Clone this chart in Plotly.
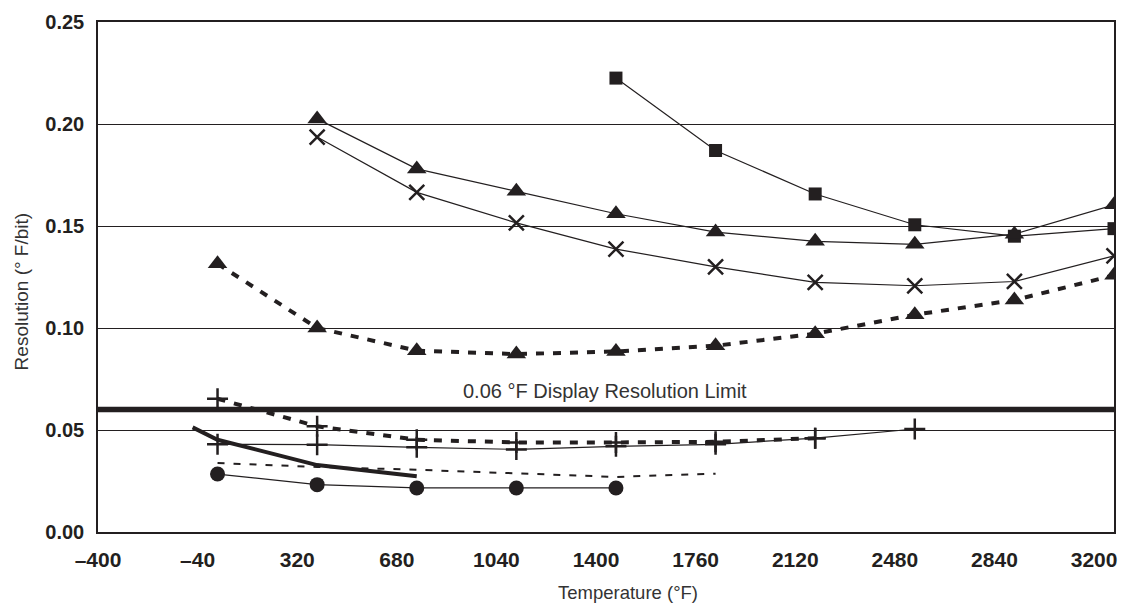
import plotly.graph_objects as go

# Temperatures (°F) of data points (0, 200, ... 1800 °C)
temps = [32, 392, 752, 1112, 1472, 1832, 2192, 2552, 2912, 3272]

sq_x = temps[4:]
sq_y = [0.2225, 0.187, 0.1657, 0.1506, 0.145, 0.1487]

tri_x = temps[1:]
tri_y = [0.2025, 0.178, 0.167, 0.156, 0.147, 0.1425, 0.141, 0.146, 0.1604]

xm_x = temps[1:]
xm_y = [0.1936, 0.1665, 0.1515, 0.1387, 0.130, 0.1224, 0.1207, 0.1228, 0.1354]

dtri_x = temps
dtri_y = [0.1315, 0.100, 0.0889, 0.0872, 0.0885, 0.0913, 0.0972, 0.1065, 0.1137, 0.1258]

dplus_x = temps[:7]
dplus_y = [0.0653, 0.0518, 0.0452, 0.0439, 0.0439, 0.0442, 0.046]

plus_x = temps[:8]
plus_y = [0.0430, 0.0428, 0.0415, 0.0405, 0.0420, 0.0430, 0.046, 0.0505]

thick_x = [-58, 32, 392, 752]
thick_y = [0.0513, 0.0452, 0.0328, 0.0273]

tdash_x = [32, 392, 752, 1112, 1472, 1832]
tdash_y = [0.0338, 0.0319, 0.0305, 0.0289, 0.0270, 0.0286]

circ_x = temps[:5]
circ_y = [0.0284, 0.0232, 0.0216, 0.0216, 0.0216]

limit_x = [-400, 3272]
limit_y = [0.06, 0.06]
limit_label = "0.06 °F Display Resolution Limit"

xtick_vals = [-400, -40, 320, 680, 1040, 1400, 1760, 2120, 2480, 2840, 3200]
xtick_text = ["–400", "–40", "320", "680", "1040", "1400", "1760", "2120", "2480", "2840", "3200"]
ytick_vals = [0.00, 0.05, 0.10, 0.15, 0.20, 0.25]
ytick_text = ["0.00", "0.05", "0.10", "0.15", "0.20", "0.25"]

INK = "#231f20"
FONT = "Liberation Sans, Arial, sans-serif"

fig = go.Figure()

def add(x, y, width, dash="solid", symbol=None, msize=0, mline=0):
    mode = "lines+markers" if symbol else "lines"
    kw = {}
    if symbol:
        kw["marker"] = dict(symbol=symbol, size=msize, color=INK,
                            line=dict(color=INK, width=mline))
    fig.add_trace(go.Scatter(x=x, y=y, mode=mode,
                             line=dict(color=INK, width=width, dash=dash),
                             showlegend=False, hoverinfo="skip", **kw))

add(limit_x, limit_y, 5.5)
add(sq_x, sq_y, 1.2, symbol="square", msize=13)
add(tri_x, tri_y, 1.2, symbol="triangle-up", msize=17)
add(xm_x, xm_y, 1.2, symbol="x-thin", msize=15, mline=2.5)
add(dtri_x, dtri_y, 4, dash="8px,9px", symbol="triangle-up", msize=17)
add(plus_x, plus_y, 1.2, symbol="cross-thin", msize=15, mline=2.5)
add(dplus_x, dplus_y, 4, dash="8px,9px", symbol="cross-thin", msize=15, mline=2.5)
add(thick_x, thick_y, 4)
add(tdash_x, tdash_y, 2, dash="7px,9px")
add(circ_x, circ_y, 1.2, symbol="circle", msize=15)

fig.add_annotation(x=1433, y=0.06, yshift=19, text=limit_label, showarrow=False,
                   font=dict(family=FONT, size=20, color="#333333"))
fig.add_annotation(xref="paper", yref="paper", x=0.522, y=-0.118, yanchor="middle",
                   text="Temperature (°F)", showarrow=False,
                   font=dict(family=FONT, size=18.5, color="#333333"))
fig.add_annotation(xref="paper", yref="paper", x=-0.0749, y=0.4716, textangle=-90,
                   xanchor="center", yanchor="middle",
                   text="Resolution (° F/bit)", showarrow=False,
                   font=dict(family=FONT, size=19, color="#333333"))

fig.update_layout(
    width=1122, height=611,
    margin=dict(l=98, r=5, t=22, b=79),
    paper_bgcolor="white", plot_bgcolor="white",
    font=dict(family=FONT, color=INK),
    xaxis=dict(range=[-400, 3272], tickvals=xtick_vals, ticktext=xtick_text,
               showgrid=False, zeroline=False, showline=True, linecolor=INK,
               linewidth=1.5, mirror=True, ticks="", ticklabelstandoff=8,
               tickfont=dict(family=FONT, size=21, color=INK, weight="bold")),
    yaxis=dict(range=[0, 0.25], tickvals=ytick_vals, ticktext=ytick_text,
               showgrid=True, gridcolor=INK, gridwidth=1, zeroline=False,
               showline=True, linecolor=INK, linewidth=1.5, mirror=True,
               ticks="", ticklabelstandoff=8,
               tickfont=dict(family=FONT, size=20, color=INK, weight="bold")),
)

fig.write_html(
    "out.html",
    config={"displayModeBar": False},
    post_script="document.body.style.margin='0';document.body.style.overflow='hidden';",
)
